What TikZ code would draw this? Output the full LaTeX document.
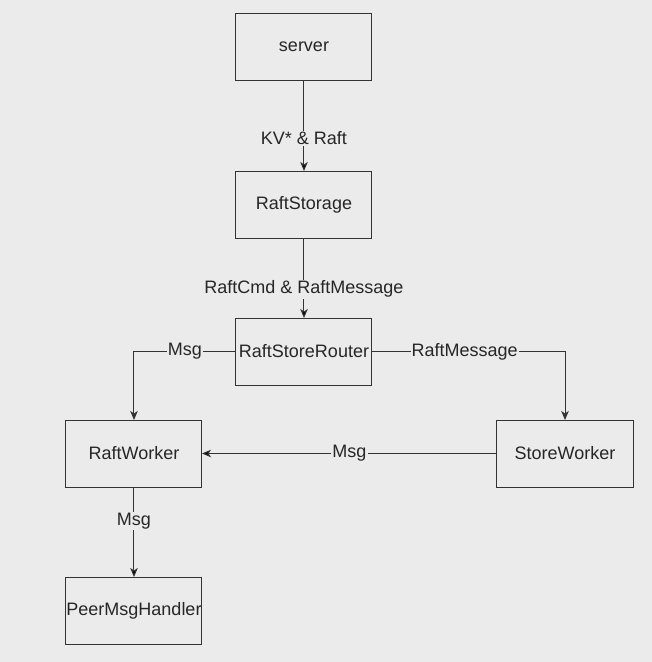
\documentclass[tikz,border=0pt]{standalone}
\usepackage{fontspec}
\setmainfont{Liberation Sans}
\usetikzlibrary{positioning,arrows.meta}
\definecolor{bgGray}{HTML}{EBEBEB}
\definecolor{lineGray}{HTML}{333333}

\begin{document}
\begin{tikzpicture}[every text node part/.style={align=center}]
\tikzset{myFont/.style={font=\fontsize{18}{20}\selectfont}}
\tikzset{myBox/.style={draw=lineGray,line width=1pt,minimum width=136pt,minimum height=67pt,inner sep=0pt,outer sep=0pt,myFont,text=black!85}}
\tikzset{myArrow/.style={draw=lineGray,line width=1pt,-{Stealth[length=9pt,width=7.5pt,inset=2.5pt]}}}
\tikzset{myLabel/.style={fill=bgGray,myFont,inner sep=1pt,text=black!85}}

\fill[bgGray] (-304pt,46.5pt) rectangle (348pt,-615.5pt);

\node[myBox] (server) at (0,0) {server};
\node[myBox,below=91pt of server] (storage) {RaftStorage};
\node[myBox,below=80pt of storage] (router) {RaftStoreRouter};
\node[myBox,below left=35pt and 34pt of router] (raftWorker) {RaftWorker};
\node[myBox,below right=35pt and 125pt of router] (storeWorker) {StoreWorker};
\node[myBox,below=90pt of raftWorker] (peerHandler) {PeerMsgHandler};

\path[myArrow] (server) edge node[myLabel,pos=0.64] {KV* \& Raft} (storage);
\path[myArrow] (storage) edge node[myLabel,pos=0.64] {RaftCmd \& RaftMessage} (router);
\draw[myArrow] (router.west) -| node[myLabel,pos=0.25] {Msg} (raftWorker.north);
\draw[myArrow] (router.east) -| node[myLabel,pos=0.24] {RaftMessage} (storeWorker.north);
\path[myArrow] (storeWorker) edge node[myLabel,pos=0.5] {Msg} (raftWorker);
\path[myArrow] (raftWorker) edge node[myLabel,pos=0.38] {Msg} (peerHandler);

\end{tikzpicture}
\end{document}
